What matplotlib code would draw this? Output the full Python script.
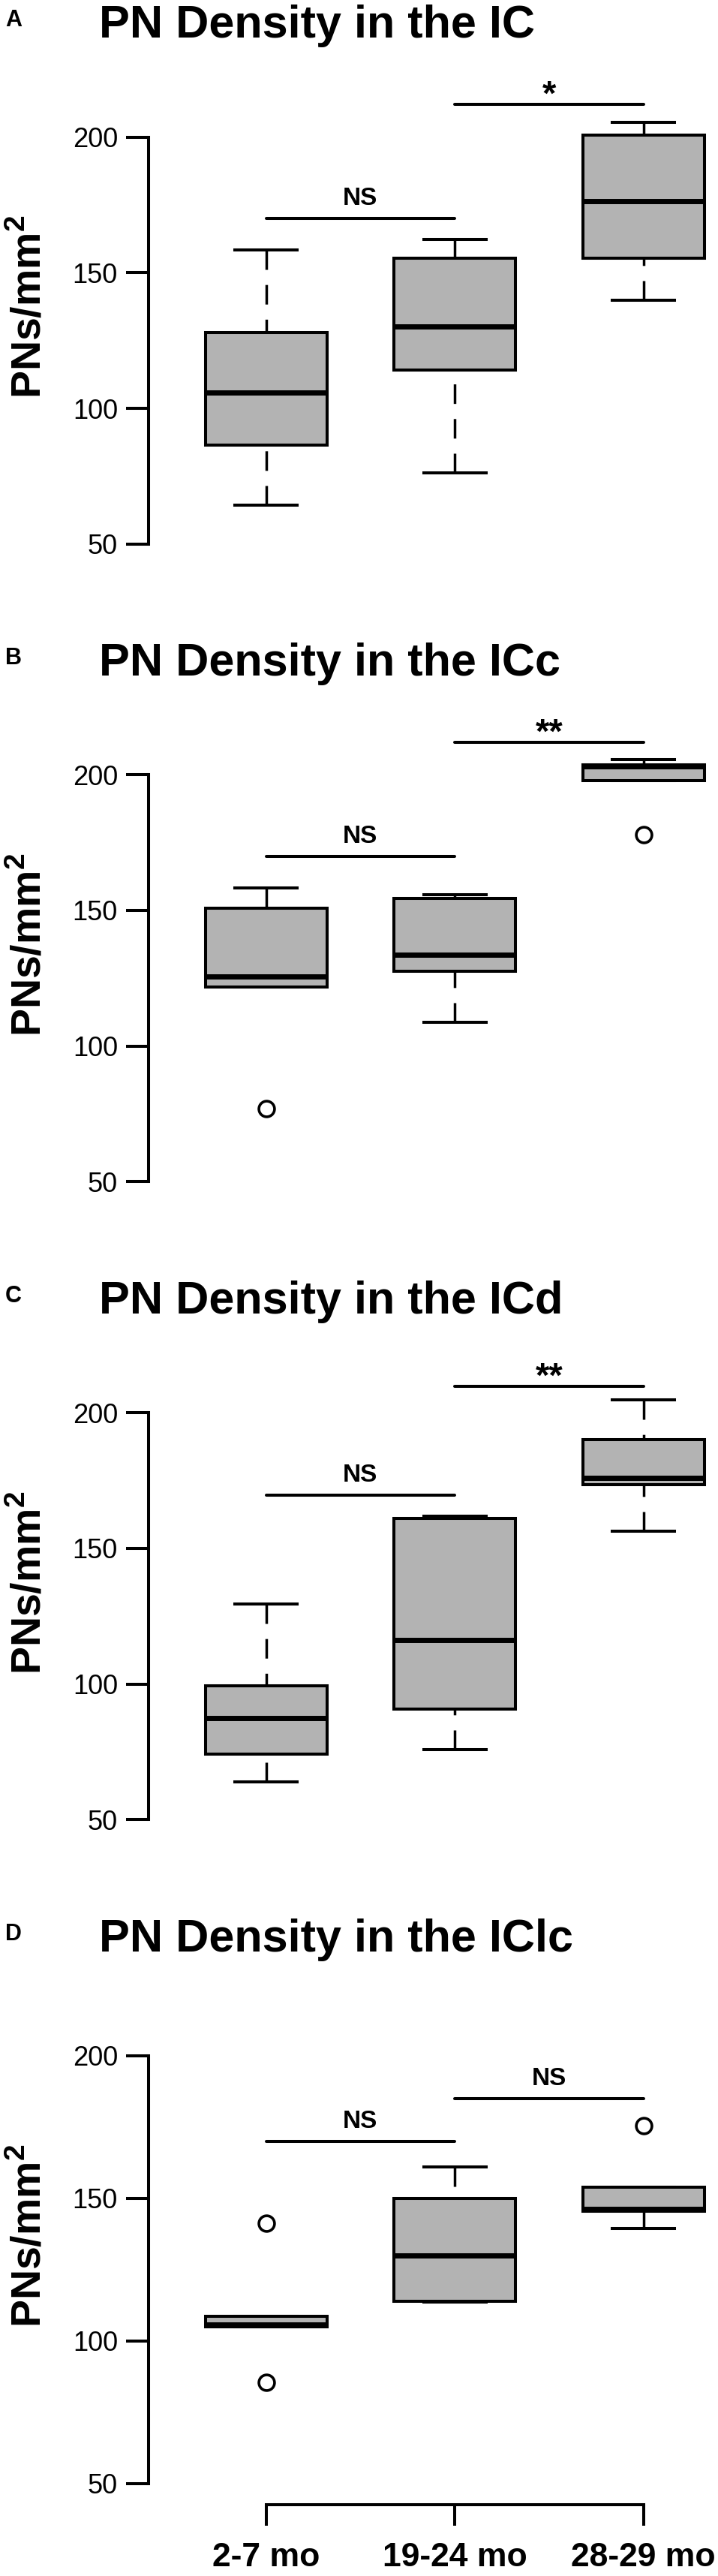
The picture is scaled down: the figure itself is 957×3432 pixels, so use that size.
import matplotlib.pyplot as plt

plt.rcParams['font.family'] = ['Liberation Sans', 'DejaVu Sans']

groups = ['2-7 mo', '19-24 mo', '28-29 mo']
titles = ['PN Density in the IC', 'PN Density in the ICc',
          'PN Density in the ICd', 'PN Density in the IClc']
letters = ['A', 'B', 'C', 'D']

# per age group: (whisker low, q1, median, q3, whisker high)
ic = [(64.2, 86.5, 105.9, 128.0, 158.3),
      (76.2, 114.0, 130.3, 155.3, 162.2),
      (139.9, 155.3, 176.3, 200.7, 205.5)]
icc = [(121.7, 121.7, 125.6, 150.8, 158.2),
       (108.7, 127.5, 133.7, 154.3, 155.9),
       (197.8, 197.8, 203.2, 203.6, 205.5)]
icd = [(63.9, 74.2, 87.4, 99.4, 129.6),
       (75.9, 90.8, 116.1, 161.0, 161.9),
       (156.4, 173.4, 175.9, 190.0, 204.8)]
iclc = [(105.0, 105.0, 105.8, 108.8, 108.8),
        (113.7, 113.9, 130.1, 150.0, 161.1),
        (139.6, 145.6, 146.3, 153.9, 153.9)]

# outliers
ic_out = [[], [], []]
icc_out = [[77.0], [], [178.0]]
icd_out = [[], [], []]
iclc_out = [[85.5, 141.2], [], [175.4]]

# significance bars: (from group, to group, height, label)
ic_sig = [(1, 2, 170.1, 'NS'), (2, 3, 212.0, '*')]
icc_sig = [(1, 2, 169.9, 'NS'), (2, 3, 211.9, '**')]
icd_sig = [(1, 2, 169.7, 'NS'), (2, 3, 209.7, '**')]
iclc_sig = [(1, 2, 170.0, 'NS'), (2, 3, 185.1, 'NS')]

panels = [(ic, ic_out, ic_sig), (icc, icc_out, icc_sig),
          (icd, icd_out, icd_sig), (iclc, iclc_out, iclc_sig)]

W, H = 957, 3432
title_base = [50, 900, 1750, 2600]
y200 = [182.7, 1032.3, 1882.3, 2739]
ppu = [3.613, 3.613, 3.613, 3.8]
ylims = [(40, 222), (40, 222), (40, 222), (42.7, 222)]
xlim = (0.3776, 3.3947)
ax_left, ax_right = 198, 957
gray = '#b3b3b3'

fig = plt.figure(figsize=(W / 100, H / 100), dpi=100)

for i, (stats, outs, sigs) in enumerate(panels):
    lo, hi = ylims[i]
    top_px = y200[i] - (hi - 200) * ppu[i]
    bot_px = y200[i] + (200 - lo) * ppu[i]
    ax = fig.add_axes([ax_left / W, 1 - bot_px / H,
                       (ax_right - ax_left) / W, (bot_px - top_px) / H])
    ax.set_xlim(*xlim)
    ax.set_ylim(lo, hi)

    bstats = []
    for s, o in zip(stats, outs):
        bstats.append({'whislo': s[0], 'q1': s[1], 'med': s[2],
                       'q3': s[3], 'whishi': s[4], 'fliers': o})
    bp = ax.bxp(bstats, positions=[1, 2, 3], widths=0.644, capwidths=0.33,
                patch_artist=True, manage_ticks=False,
                boxprops=dict(facecolor=gray, edgecolor='black', linewidth=2.9),
                medianprops=dict(color='black', linewidth=5, solid_capstyle='butt'),
                whiskerprops=dict(color='black', linewidth=2.5, linestyle=(0, (7.5, 5.8))),
                capprops=dict(color='black', linewidth=2.9),
                flierprops=dict(marker='o', markerfacecolor='none', markeredgecolor='black',
                                markersize=15, markeredgewidth=2.6))
    # start dashes at the whisker end, as R does
    for w in bp['whiskers']:
        w.set_data(w.get_xdata()[::-1], w.get_ydata()[::-1])
    for b in bp['boxes']:
        b.set_zorder(3)
    for m in bp['medians']:
        m.set_zorder(4)

    for a, b, h, lab in sigs:
        ax.plot([a, b], [h, h], color='black', linewidth=2.9,
                solid_capstyle='round', clip_on=False)
        if lab == 'NS':
            ax.text((a + b) / 2, h + 18 / ppu[i], lab, ha='center', va='baseline',
                    fontsize=24, fontweight='bold', clip_on=False)
        else:
            ax.text((a + b) / 2, h, lab, ha='center', va='baseline',
                    fontsize=34, fontweight='bold', clip_on=False)

    for sp in ['top', 'right']:
        ax.spines[sp].set_visible(False)
    ax.spines['left'].set_bounds(50, 200)
    ax.spines['left'].set_linewidth(2.9)
    ax.set_yticks([50, 100, 150, 200])
    ax.tick_params(axis='y', length=21.6, width=2.9, labelsize=26, pad=8)

    if i == 3:
        ax.spines['bottom'].set_bounds(1, 3)
        ax.spines['bottom'].set_linewidth(2.9)
        ax.set_xticks([1, 2, 3])
        ax.set_xticklabels(groups, fontweight='bold')
        ax.tick_params(axis='x', length=20, width=2.9, labelsize=32, pad=16)
    else:
        ax.spines['bottom'].set_visible(False)
        ax.set_xticks([])

    y50 = y200[i] + 150 * ppu[i]
    fig.text(40 / W, 1 - ((y200[i] + y50) / 2 - 45) / H,
             'PNs/mm$^{\\mathregular{2}}$', rotation=90, fontsize=40,
             fontweight='bold', ha='center', va='center')
    fig.text(132 / W, 1 - title_base[i] / H, titles[i], fontsize=44,
             fontweight='bold', ha='left', va='baseline')
    fig.text(7 / W, 1 - (title_base[i] - 15) / H, letters[i], fontsize=22,
             fontweight='bold', ha='left', va='baseline')

fig.savefig('out.png', dpi=100)
